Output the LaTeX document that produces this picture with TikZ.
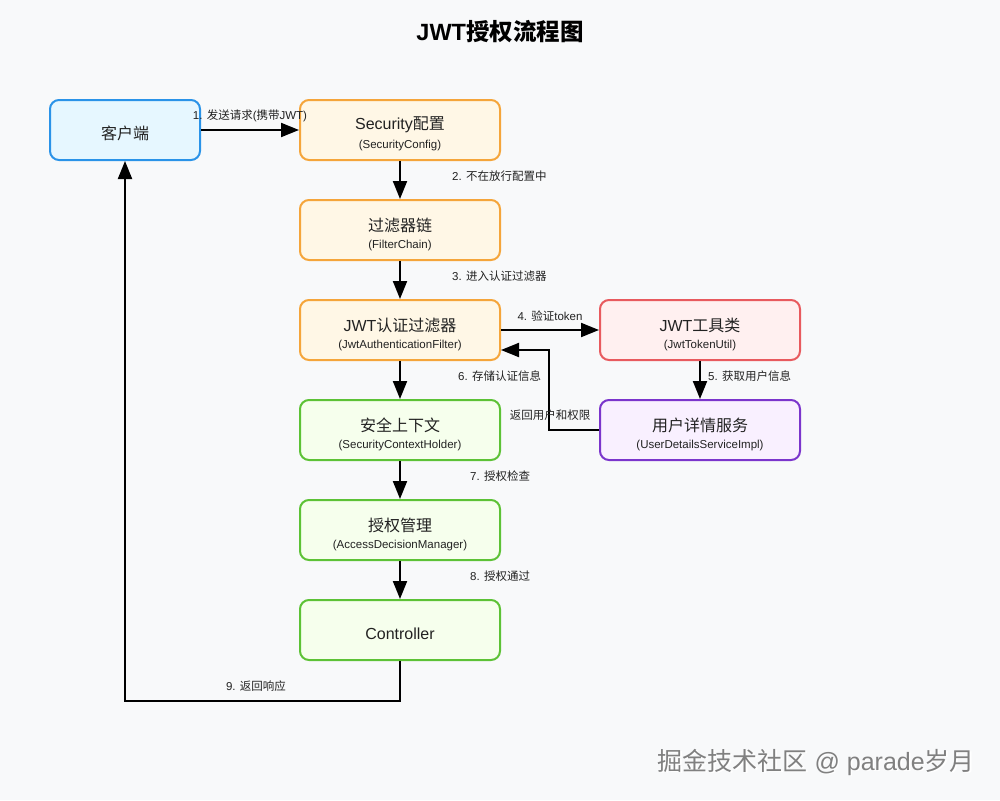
\documentclass[tikz,border=0pt]{standalone}
\usepackage{fontspec}
\setmainfont{Liberation Sans}
\newfontfamily\cjk{Noto Sans CJK SC}
\usetikzlibrary{arrows.meta,positioning}
\definecolor{bg}{HTML}{F8F9FA}
\definecolor{bluefill}{HTML}{E6F7FF}
\definecolor{blueline}{HTML}{2A93E8}
\definecolor{orfill}{HTML}{FFF7E6}
\definecolor{orline}{HTML}{F5A53A}
\definecolor{redfill}{HTML}{FFF0F0}
\definecolor{redline}{HTML}{E85A5E}
\definecolor{purfill}{HTML}{F9F0FF}
\definecolor{purline}{HTML}{7B35CC}
\definecolor{grfill}{HTML}{F6FFED}
\definecolor{grline}{HTML}{5DC236}
\definecolor{txt}{HTML}{222222}
\tikzset{
  box/.style={draw, line width=2pt, rounded corners=9pt, minimum width=200pt, minimum height=60pt, inner sep=0pt},
  bluebox/.style={box, fill=bluefill, draw=blueline, minimum width=150pt},
  orbox/.style={box, fill=orfill, draw=orline},
  redbox/.style={box, fill=redfill, draw=redline},
  purbox/.style={box, fill=purfill, draw=purline},
  grbox/.style={box, fill=grfill, draw=grline},
  maintxt/.style={font=\fontsize{16}{18}\selectfont, text=txt, inner sep=0pt},
  subtxt/.style={font=\fontsize{11.5}{13}\selectfont, text=txt, inner sep=0pt},
  lbl/.style={font=\fontsize{11.5}{13}\selectfont, text=txt, inner sep=0pt},
  arr/.style={line width=2pt, -{Triangle[length=18pt,width=14pt]}},
  plain/.style={line width=2pt}
}
\begin{document}
\begin{tikzpicture}[x=1pt,y=-1pt]
\fill[bg] (0,0) rectangle (1000,800);
\useasboundingbox (0,0) rectangle (1000,800);

\node[font=\fontsize{23.5}{26}\selectfont\bfseries, text=black] (title) at (500,32) {JWT{\cjk 授权流程图}};

% boxes
\node[bluebox] (client) at (125,130) {};
\node[maintxt] (clientT) at (125,133) {\cjk 客户端};

\node[orbox] (sc) at (400,130) {};
\node[maintxt] (scT) at (400,125) {Security{\cjk 配置}};
\node[subtxt] (scS) at (400,146) {(SecurityConfig)};

\node[orbox] (fc) at (400,230) {};
\node[maintxt] (fcT) at (400,225) {\cjk 过滤器链};
\node[subtxt] (fcS) at (400,246) {(FilterChain)};

\node[orbox] (jaf) at (400,330) {};
\node[maintxt] (jafT) at (400,325) {JWT{\cjk 认证过滤器}};
\node[subtxt] (jafS) at (400,346) {(JwtAuthenticationFilter)};

\node[redbox] (jtu) at (700,330) {};
\node[maintxt] (jtuT) at (700,325) {JWT{\cjk 工具类}};
\node[subtxt] (jtuS) at (700,346) {(JwtTokenUtil)};

\node[purbox] (uds) at (700,430) {};
\node[maintxt] (udsT) at (700,425) {\cjk 用户详情服务};
\node[subtxt] (udsS) at (700,446) {(UserDetailsServiceImpl)};

\node[grbox] (sch) at (400,430) {};
\node[maintxt] (schT) at (400,425) {\cjk 安全上下文};
\node[subtxt] (schS) at (400,446) {(SecurityContextHolder)};

\node[grbox] (adm) at (400,530) {};
\node[maintxt] (admT) at (400,525) {\cjk 授权管理};
\node[subtxt] (admS) at (400,546) {(AccessDecisionManager)};

\node[grbox] (ctrl) at (400,630) {};
\node[maintxt] (ctrlT) at (400,634) {Controller};

% connectors
\draw[arr] (client.east) -- (sc.west);
\draw[arr] (sc.south) -- (fc.north);
\draw[arr] (fc.south) -- (jaf.north);
\draw[arr] (jaf.east) -- (jtu.west);
\draw[arr] (jtu.south) -- (uds.north);
\draw[arr] (uds.west) -- ++(-50,0) |- ([yshift=-20pt]jaf.east);
\draw[arr] (jaf.south) -- (sch.north);
\draw[arr] (sch.south) -- (adm.north);
\draw[arr] (adm.south) -- (ctrl.north);
\draw[arr] (ctrl.south) -- ++(0,40) -| (client.south);

% labels
\node[lbl] (l1) at (250,116) {1. {\cjk 发送请求}({\cjk 携带}JWT)};
\node[lbl, anchor=west] (l2) at (452,176) {2. {\cjk 不在放行配置中}};
\node[lbl, anchor=west] (l3) at (452,276) {3. {\cjk 进入认证过滤器}};
\node[lbl] (l4) at (550,316) {4. {\cjk 验证}token};
\node[lbl, anchor=west] (l5) at (708,376) {5. {\cjk 获取用户信息}};
\node[lbl, anchor=west] (l6) at (458,376) {6. {\cjk 存储认证信息}};
\node[lbl] (lr) at (550,415) {\cjk 返回用户和权限};
\node[lbl, anchor=west] (l7) at (470,476) {7. {\cjk 授权检查}};
\node[lbl, anchor=west] (l8) at (470,576) {8. {\cjk 授权通过}};
\node[lbl] (l9) at (256,686) {9. {\cjk 返回响应}};

% watermark
\node[font=\fontsize{25}{27}\selectfont, text=white, anchor=east, inner sep=0pt] (wmS) at (976.5,763.5) {{\cjk 掘金技术社区} @ parade{\cjk 岁月}};
\node[font=\fontsize{25}{27}\selectfont, text=black!50, anchor=east, inner sep=0pt] (wm) at (975,762) {{\cjk 掘金技术社区} @ parade{\cjk 岁月}};
\end{tikzpicture}
\end{document}
